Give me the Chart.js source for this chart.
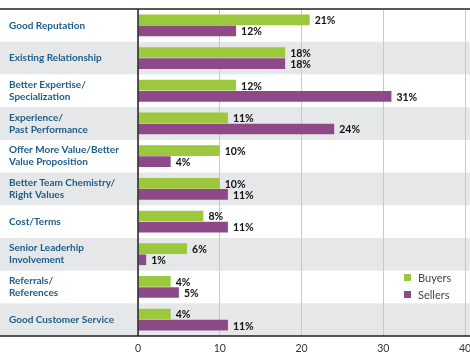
<!DOCTYPE html>
<html>
<head>
<meta charset="utf-8">
<script src="https://cdn.jsdelivr.net/npm/chart.js@4/dist/chart.umd.min.js"></script>
<style>
  html, body { margin: 0; padding: 0; background: #fff; }
  #wrap { width: 470px; height: 352px; }
</style>
</head>
<body>
<div id="wrap"><canvas id="chart"></canvas></div>
<script>
const categories = [
	["Good Reputation"],
	["Existing Relationship"],
	["Better Expertise/", "Specialization"],
	["Experience/", "Past Performance"],
	["Offer More Value/Better", "Value Proposition"],
	["Better Team Chemistry/", "Right Values"],
	["Cost/Terms"],
	["Senior Leaderhip", "Involvement"],
	["Referrals/", "References"],
	["Good Customer Service"],
];
const buyers = [21, 18, 12, 11, 10, 10, 8, 6, 4, 4];
const sellers = [12, 18, 31, 24, 4, 11, 11, 1, 5, 11];
const xTicks = [0, 10, 20, 30, 40];

const green = "#9bc83d";
const purple = "#8e4a88";
const rowGray = "#e6e7e8";
const labelBlue = "#1c5d89";
const fontFamily = "Lato, 'Open Sans', sans-serif";

// alternating row bands + frame lines across the whole width
const rowBands = {
	id: "rowBands",
	beforeDraw(chart) {
		const { ctx, scales: { y } } = chart;
		const step = y.getPixelForValue(1) - y.getPixelForValue(0);
		ctx.save();
		ctx.fillStyle = rowGray;
		categories.forEach((c, i) => {
			if (i % 2 === 1) {
				const mid = y.getPixelForValue(i);
				ctx.fillRect(0, mid - step / 2, chart.width, step);
			}
		});
		ctx.restore();
	},
	afterDraw(chart) {
		const { ctx, chartArea } = chart;
		ctx.save();
		ctx.strokeStyle = "#222";
		ctx.lineWidth = 1.5;
		ctx.beginPath();
		ctx.moveTo(0, chartArea.top);
		ctx.lineTo(chart.width, chartArea.top);
		ctx.moveTo(0, chartArea.bottom);
		ctx.lineTo(chart.width, chartArea.bottom);
		ctx.moveTo(chartArea.left, chartArea.top);
		ctx.lineTo(chartArea.left, chartArea.bottom);
		ctx.stroke();

		// legend
		const items = [["Buyers", green], ["Sellers", purple]];
		ctx.font = "11px " + fontFamily;
		ctx.textBaseline = "middle";
		items.forEach(([name, color], i) => {
			const yy = 278 + i * 17;
			ctx.fillStyle = color;
			ctx.fillRect(404, yy - 4, 7, 7);
			ctx.fillStyle = "#444";
			ctx.fillText(name, 418, yy);
		});
		ctx.restore();
	},
};

// value labels at the bar ends
const barValues = {
	id: "barValues",
	afterDatasetsDraw(chart) {
		const { ctx } = chart;
		ctx.save();
		ctx.font = "bold 10.5px " + fontFamily;
		ctx.fillStyle = "#111";
		ctx.textBaseline = "middle";
		chart.data.datasets.forEach((ds, di) => {
			chart.getDatasetMeta(di).data.forEach((bar, i) => {
				ctx.fillText(ds.data[i] + "%", bar.x + 5, bar.y + 1);
			});
		});
		ctx.restore();
	},
};

new Chart(document.getElementById("chart"), {
	type: "bar",
	data: {
		labels: categories,
		datasets: [
			{ label: "Buyers", data: buyers, backgroundColor: green },
			{ label: "Sellers", data: sellers, backgroundColor: purple },
		],
	},
	options: {
		indexAxis: "y",
		responsive: true,
		maintainAspectRatio: false,
		animation: false,
		categoryPercentage: 0.68,
		barPercentage: 0.96,
		layout: { padding: { left: 9, right: 5, top: 1, bottom: 0 } },
		plugins: {
			legend: { display: false },
			tooltip: { enabled: false },
		},
		scales: {
			x: {
				min: 0,
				max: 40,
				afterBuildTicks(scale) {
					scale.ticks = xTicks.map((v) => ({ value: v }));
				},
				afterFit(scale) {
					scale.height = 16;
					scale.paddingLeft = 0;
					scale.paddingRight = 0;
				},
				grid: { color: "#c9c9c9", drawTicks: false, lineWidth: 1 },
				border: { display: false },
				ticks: {
					color: "#333",
					padding: 6,
					font: { family: fontFamily, size: 10.5 },
				},
			},
			y: {
				afterFit(scale) {
					scale.width = 129;
				},
				grid: { display: false, drawTicks: false },
				border: { display: false },
				ticks: {
					crossAlign: "far",
					color: labelBlue,
					font: { family: fontFamily, size: 10, weight: "bold" },
				},
			},
		},
	},
	plugins: [rowBands, barValues],
});
</script>
</body>
</html>
